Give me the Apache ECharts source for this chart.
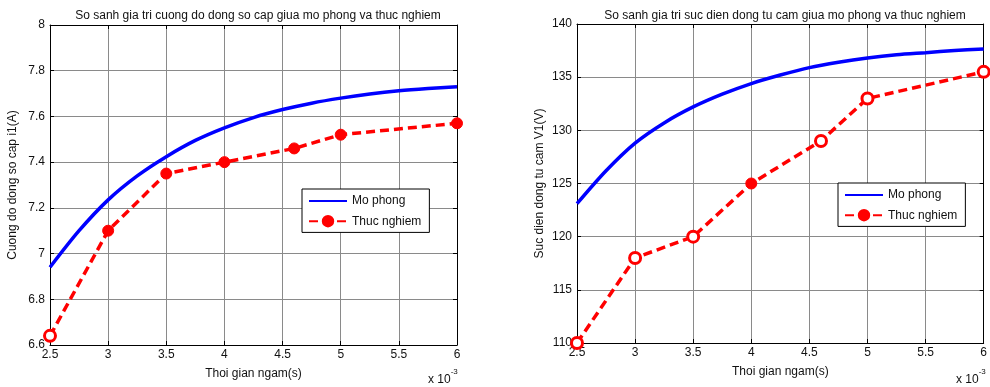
<!DOCTYPE html>
<html>
<head>
<meta charset="utf-8">
<script src="https://cdn.jsdelivr.net/npm/echarts@6/dist/echarts.min.js"></script>
<style>
html,body{margin:0;padding:0;background:#fff;}
#c{width:990px;height:387px;}
</style>
</head>
<body>
<div id="c"></div>
<script>
// x values in units of 1e-3 s
const simX = [2.5, 2.75, 3, 3.25, 3.5, 3.75, 4, 4.25, 4.5, 4.75, 5, 5.25, 5.5, 5.75, 6];
const expX = [2.5, 3, 3.5, 4, 4.6, 5, 6];
// Left: Cuong do dong so cap i1 (A)
const currentSim = [6.94, 7.10, 7.235, 7.34, 7.424, 7.495, 7.55, 7.595, 7.63, 7.658, 7.68, 7.698, 7.712, 7.722, 7.73];
const currentExp = [6.64, 7.1, 7.35, 7.4, 7.46, 7.52, 7.57];
// Right: Suc dien dong tu cam V1 (V)
const emfSim = [123.1, 126.2, 128.8, 130.7, 132.2, 133.4, 134.4, 135.2, 135.9, 136.4, 136.8, 137.1, 137.3, 137.5, 137.65];
const emfExp = [110, 118, 120, 125, 129, 133, 135.5];
const xTicks = [2.5, 3, 3.5, 4, 4.5, 5, 5.5, 6];

const FONT = 'Liberation Sans';
const chart = echarts.init(document.getElementById('c'), null, {renderer: 'canvas'});

function pairs(xs, ys) { return xs.map((x, i) => [x, ys[i]]); }
function expData(xs, ys, hollowSet) {
  return xs.map((x, i) => {
    const d = {value: [x, ys[i]]};
    if (hollowSet.has(i)) d.itemStyle = {color: '#fff', borderColor: '#ff0000', borderWidth: 3};
    return d;
  });
}

const grids = [
  {left: 50, top: 25, width: 407, height: 320},
  {left: 577, top: 24, width: 408, height: 319}
];

function xAxes(gi) {
  const base = {
    type: 'value', gridIndex: gi, min: 2.5, max: 6, interval: 0.5,
    axisLine: {show: true, lineStyle: {color: '#000', width: 1}},
    axisTick: {show: true, inside: true, length: 4, lineStyle: {color: '#000'}},
    splitLine: {show: false}
  };
  return [
    Object.assign({}, base, {
      position: 'bottom',
      name: 'Thoi gian ngam(s)', nameLocation: 'middle', nameGap: 23,
      nameTextStyle: {fontFamily: FONT, fontSize: 12, color: '#111'},
      axisLabel: {fontFamily: FONT, fontSize: 12, color: '#111', margin: 4,
        formatter: v => xTicks.includes(v) ? String(v) : ''},
      splitLine: {show: true, lineStyle: {color: '#8a8a8a', width: 1}}
    }),
    Object.assign({}, base, {position: 'top', axisLabel: {show: false}})
  ];
}
function yAxes(gi, min, max, interval, name, gap) {
  const base = {
    type: 'value', gridIndex: gi, min: min, max: max, interval: interval,
    axisLine: {show: true, lineStyle: {color: '#000', width: 1}},
    axisTick: {show: true, inside: true, length: 4, lineStyle: {color: '#000'}},
    splitLine: {show: false}
  };
  return [
    Object.assign({}, base, {
      position: 'left',
      name: name, nameLocation: 'middle', nameGap: gap, nameRotate: 90,
      nameTextStyle: {fontFamily: FONT, fontSize: 12, color: '#111'},
      axisLabel: {fontFamily: FONT, fontSize: 12, color: '#111', margin: 5,
        formatter: v => String(+v.toFixed(1))},
      splitLine: {show: true, lineStyle: {color: '#8a8a8a', width: 1}}
    }),
    Object.assign({}, base, {position: 'right', axisLabel: {show: false}})
  ];
}

const xa = xAxes(0).concat(xAxes(1));
const ya = yAxes(0, 6.6, 8, 0.2, 'Cuong do dong so cap i1(A)', 31)
  .concat(yAxes(1, 110, 140, 5, 'Suc dien dong tu cam V1(V)', 31));

const simStyle = {color: '#0000ff', width: 3.5};
const expStyle = {color: '#ff0000', width: 3.5, type: [9, 5]};

function expSeries(name, xi, yi, data) {
  return {
    name: name, type: 'line', xAxisIndex: xi, yAxisIndex: yi, data: data,
    lineStyle: expStyle, itemStyle: {color: '#ff0000', borderColor: '#ff0000', borderWidth: 1},
    symbol: 'circle', symbolSize: 11, showAllSymbol: true, animation: false, z: 3
  };
}

const legendItems = [
  {name: 'Mo phong', itemStyle: {color: 'rgba(0,0,0,0)', borderWidth: 0}},
  {name: 'Thuc nghiem'}
];
function legend(left, top) {
  return {left: left, top: top, orient: 'vertical', itemGap: 8,
    padding: [6, 8, 5, 6], borderColor: '#000', borderWidth: 1, borderRadius: 0, backgroundColor: '#fff',
    itemWidth: 38, itemHeight: 13, data: legendItems,
    textStyle: {fontFamily: FONT, fontSize: 12, color: '#111'}, selectedMode: false};
}

const option = {
  animation: false,
  backgroundColor: '#fff',
  title: [
    {text: 'So sanh gia tri cuong do dong so cap giua mo phong va thuc nghiem',
     left: 253, top: 5, textAlign: 'center',
     textStyle: {fontFamily: FONT, fontSize: 12, fontWeight: 'normal', color: '#111'}},
    {text: 'So sanh gia tri suc dien dong tu cam giua mo phong va thuc nghiem',
     left: 780, top: 5, textAlign: 'center',
     textStyle: {fontFamily: FONT, fontSize: 12, fontWeight: 'normal', color: '#111'}}
  ],
  grid: grids,
  xAxis: xa,
  yAxis: ya,
  legend: [legend(302, 189), legend(838, 183)],
  series: [
    {name: 'Mo phong', type: 'line', xAxisIndex: 0, yAxisIndex: 0, data: pairs(simX, currentSim),
     smooth: 0.3, showSymbol: false, symbol: 'none', lineStyle: simStyle, itemStyle: {color: '#0000ff'}},
    expSeries('Thuc nghiem', 0, 0, expData(expX, currentExp, new Set([0]))),
    {name: 'Mo phong', type: 'line', xAxisIndex: 2, yAxisIndex: 2, data: pairs(simX, emfSim),
     smooth: 0.3, showSymbol: false, symbol: 'none', lineStyle: simStyle, itemStyle: {color: '#0000ff'}},
    expSeries('Thuc nghiem', 2, 2, expData(expX, emfExp, new Set([0, 1, 2, 4, 5, 6])))
  ],
  graphic: [
    {type: 'text', left: 428, top: 368,
     style: {text: '{b|x 10}{s|-3}', rich: {
       b: {fontFamily: FONT, fontSize: 12, fill: '#111', verticalAlign: 'bottom', padding: [6, 0, 0, 0]},
       s: {fontFamily: FONT, fontSize: 8, fill: '#111', verticalAlign: 'top', padding: [0, 0, 6, 0]}}}},
    {type: 'text', left: 956, top: 368,
     style: {text: '{b|x 10}{s|-3}', rich: {
       b: {fontFamily: FONT, fontSize: 12, fill: '#111', verticalAlign: 'bottom', padding: [6, 0, 0, 0]},
       s: {fontFamily: FONT, fontSize: 8, fill: '#111', verticalAlign: 'top', padding: [0, 0, 6, 0]}}}}
  ]
};
chart.setOption(option);
</script>
</body>
</html>
